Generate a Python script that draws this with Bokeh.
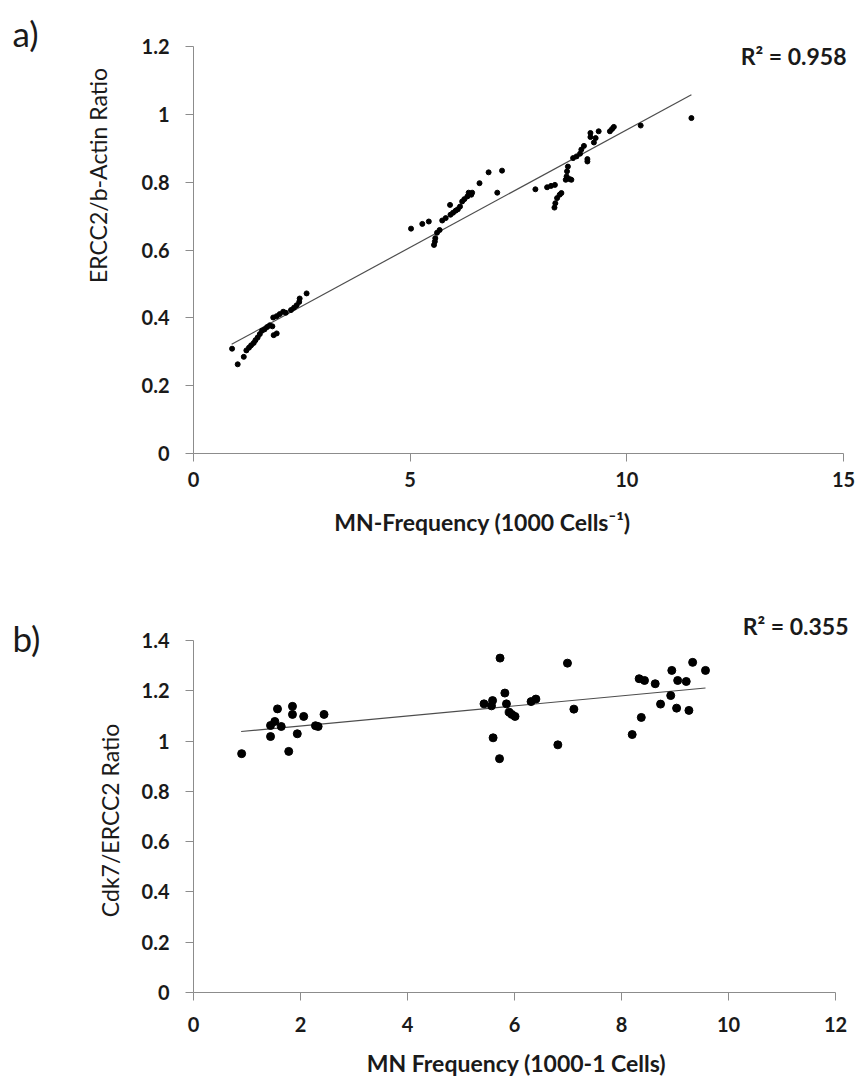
import math
from bokeh.plotting import figure
from bokeh.layouts import column
from bokeh.models import Label, Range1d, FixedTicker
from bokeh.embed import file_html
from bokeh.resources import INLINE

# ---------------- Panel a data ----------------
a_x = [0.89, 1.02, 1.16, 1.22, 1.28, 1.33, 1.39, 1.43, 1.48, 1.53, 1.58, 1.64, 1.70, 1.76,
       1.82, 1.85, 1.92, 1.84, 1.92, 1.99, 2.07, 2.13, 2.25, 2.32, 2.38, 2.44, 2.45, 2.61,
       5.02, 5.28, 5.43, 5.55, 5.57, 5.58, 5.62, 5.68, 5.74, 5.82, 5.92, 5.93, 5.99, 6.05,
       6.10, 6.15, 6.20, 6.25, 6.32, 6.35, 6.41, 6.43, 6.60, 6.81, 7.01, 7.12,
       7.89, 8.16, 8.25, 8.34, 8.33, 8.35, 8.39, 8.45, 8.49, 8.59, 8.61, 8.62, 8.64, 8.68,
       8.72, 8.76, 8.84, 8.92, 8.95, 9.01, 9.09, 9.09, 9.16, 9.16, 9.24, 9.28, 9.35, 9.61,
       9.66, 9.70, 10.32, 11.49]
a_y = [0.309, 0.263, 0.285, 0.304, 0.312, 0.319, 0.326, 0.334, 0.342, 0.352, 0.362, 0.366, 0.373, 0.378,
       0.375, 0.349, 0.354, 0.401, 0.405, 0.411, 0.418, 0.415, 0.423, 0.430, 0.437, 0.447, 0.457, 0.472,
       0.663, 0.677, 0.684, 0.615, 0.625, 0.635, 0.651, 0.659, 0.687, 0.694, 0.733, 0.704, 0.710, 0.716,
       0.720, 0.728, 0.743, 0.750, 0.758, 0.769, 0.763, 0.769, 0.797, 0.829, 0.769, 0.834,
       0.779, 0.785, 0.789, 0.792, 0.725, 0.738, 0.753, 0.763, 0.768, 0.807, 0.817, 0.832, 0.846, 0.809,
       0.807, 0.871, 0.876, 0.884, 0.896, 0.907, 0.868, 0.861, 0.945, 0.933, 0.917, 0.930, 0.950, 0.950,
       0.957, 0.963, 0.967, 0.989]
a_trend_x = [0.88, 11.49]
a_trend_y = [0.322, 1.058]
a_xticks = [0, 5, 10, 15]
a_yticks = [0, 0.2, 0.4, 0.6, 0.8, 1.0, 1.2]
a_r2 = "R\u00b2 = 0.958"
a_xlabel = "MN-Frequency (1000 Cells\u207b\u00b9)"
a_ylabel = "ERCC2/b-Actin Ratio"

# ---------------- Panel b data ----------------
b_x = [0.90, 1.44, 1.44, 1.52, 1.57, 1.64, 1.78, 1.85, 1.85, 1.94, 2.06, 2.28, 2.33, 2.44,
       5.43, 5.59, 5.57, 5.60, 5.72, 5.73, 5.82, 5.85, 5.90, 5.95, 6.01, 6.31, 6.40, 6.81,
       6.99, 7.11, 8.20, 8.33, 8.43, 8.37, 8.63, 8.73, 8.92, 8.94, 9.03, 9.05, 9.21, 9.26,
       9.33, 9.57]
b_y = [0.950, 1.062, 1.018, 1.078, 1.128, 1.058, 0.959, 1.138, 1.106, 1.029, 1.098, 1.061, 1.058, 1.106,
       1.148, 1.161, 1.140, 1.013, 0.930, 1.330, 1.191, 1.148, 1.115, 1.106, 1.098, 1.157, 1.167, 0.985,
       1.310, 1.127, 1.026, 1.248, 1.241, 1.094, 1.228, 1.147, 1.181, 1.281, 1.131, 1.241, 1.237, 1.122,
       1.313, 1.281]
b_trend_x = [0.89, 9.57]
b_trend_y = [1.038, 1.211]
b_xticks = [0, 2, 4, 6, 8, 10, 12]
b_yticks = [0, 0.2, 0.4, 0.6, 0.8, 1.0, 1.2, 1.4]
b_r2 = "R\u00b2 = 0.355"
b_xlabel = "MN Frequency (1000-1 Cells)"
b_ylabel = "Cdk7/ERCC2  Ratio"

FONT = "Lato"
AXIS_GRAY = "#8c8c8c"
TEXT = "#1a1a1a"
W = 855
TITLE_SIZE = "23px"


def make_panel(top, height, px0, px1, xlo, xhi, py0, py1, ylo, yhi):
    """Figure whose frame is the whole canvas; page pixel anchors -> data ranges."""
    sx = (px1 - px0) / (xhi - xlo)
    sy = (py0 - py1) / (yhi - ylo)
    x_start = xlo - (px0 - 0) / sx
    x_end = xlo + (W - px0) / sx
    y_start = ylo - (top + height - py0) / sy
    y_end = ylo + (py0 - top) / sy
    p = figure(width=W, height=height, output_backend="svg", toolbar_location=None,
               x_range=Range1d(x_start, x_end), y_range=Range1d(y_start, y_end),
               min_border=0)
    p.title.visible = False
    p.xgrid.visible = False
    p.ygrid.visible = False
    p.outline_line_color = None
    return p


def style_axes(p, xticks, yticks, xbounds, ybounds, x_standoff, y_standoff):
    p.xaxis.fixed_location = 0
    p.yaxis.fixed_location = 0
    p.xaxis.bounds = xbounds
    p.yaxis.bounds = ybounds
    p.xaxis.ticker = FixedTicker(ticks=xticks)
    p.yaxis.ticker = FixedTicker(ticks=yticks)
    p.xaxis.major_label_overrides = {t: "%g" % t for t in xticks}
    p.yaxis.major_label_overrides = {t: "%g" % t for t in yticks}
    for ax in (p.xaxis, p.yaxis):
        ax.axis_line_color = AXIS_GRAY
        ax.axis_line_width = 1
        ax.major_tick_line_color = AXIS_GRAY
        ax.major_tick_in = 0
        ax.major_tick_out = 8
        ax.minor_tick_line_color = None
        ax.major_label_text_font = FONT
        ax.major_label_text_font_style = "bold"
        ax.major_label_text_font_size = "20px"
        ax.major_label_text_color = TEXT
    p.xaxis.major_label_standoff = x_standoff
    p.yaxis.major_label_standoff = y_standoff


def add_label(p, top, height, text, page_x, page_y, size, bold=False, align="center", angle=0.0):
    p.add_layout(Label(x=page_x, y=top + height - page_y, x_units="screen", y_units="screen",
                       text=text, text_font=FONT, text_font_size=size,
                       text_font_style="bold" if bold else "normal",
                       text_color=TEXT, text_align=align,
                       text_baseline="middle", angle=angle))


# ---------------- Figure a ----------------
A_TOP, A_H = 0, 555
pa = make_panel(A_TOP, A_H, 193, 843, 0, 15, 453, 46, 0, 1.2)
style_axes(pa, a_xticks, a_yticks, (0, 15), (0, 1.2), 10, 16)
pa.line(a_trend_x, a_trend_y, line_color="#4d4d4d", line_width=1.2)
pa.scatter(a_x, a_y, size=5, color="black")
add_label(pa, A_TOP, A_H, "a)", 12, 32, "35px", align="left")
add_label(pa, A_TOP, A_H, a_ylabel, 97, 175, TITLE_SIZE, angle=math.pi / 2)
add_label(pa, A_TOP, A_H, a_xlabel, 482, 521, TITLE_SIZE, bold=True)
add_label(pa, A_TOP, A_H, a_r2, 846, 55, TITLE_SIZE, bold=True, align="right")

# ---------------- Figure b ----------------
B_TOP, B_H = 555, 525
pb = make_panel(B_TOP, B_H, 193, 835, 0, 12, 992, 640, 0, 1.4)
style_axes(pb, b_xticks, b_yticks, (0, 12), (0, 1.4), 16, 16)
pb.line(b_trend_x, b_trend_y, line_color="#4d4d4d", line_width=1.2)
pb.scatter(b_x, b_y, size=8, color="black")
add_label(pb, B_TOP, B_H, "b)", 12, 637, "35px", align="left")
add_label(pb, B_TOP, B_H, b_ylabel, 109, 817, TITLE_SIZE, angle=math.pi / 2)
add_label(pb, B_TOP, B_H, b_xlabel, 516, 1062, TITLE_SIZE, bold=True)
add_label(pb, B_TOP, B_H, b_r2, 848, 625, TITLE_SIZE, bold=True, align="right")

layout = column(pa, pb)
open("out.html", "w").write(file_html(layout, INLINE))
